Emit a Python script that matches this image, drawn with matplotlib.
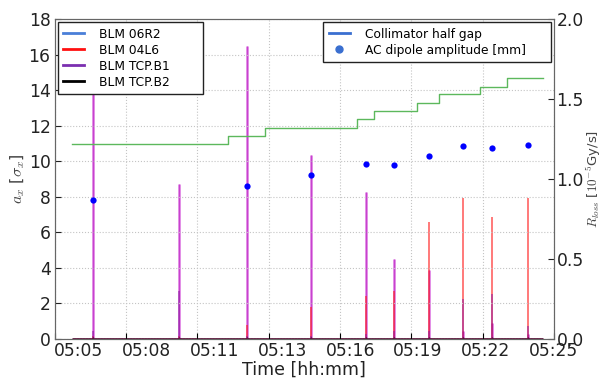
import numpy as np
import matplotlib.pyplot as plt
from matplotlib.lines import Line2D

# time in minutes after 05:00
t_start, t_end = 4.72, 24.53

# collimator half gap steps [sigma]
gap_edges = [4.72, 11.30, 12.86, 16.72, 17.45, 19.25, 20.15, 21.88, 23.05, 24.53]
gap_levels = [10.95, 11.40, 11.88, 12.36, 12.83, 13.30, 13.76, 14.20, 14.70]

# AC dipole kicks
kick_t = [5.60, 12.09, 14.80, 17.09, 18.26, 19.73, 21.18, 22.40, 23.91]
kick_amp = [7.83, 8.59, 9.24, 9.84, 9.79, 10.31, 10.83, 10.76, 10.89]

# loss spikes [1e-5 Gy/s]
spike_t = [5.60, 9.23, 12.09, 14.80, 17.09, 18.26, 19.73, 21.18, 22.40, 23.91]
loss_06R2 = [1.80, 0.97, 1.83, 1.15, 0.92, 0.50, 0.43, 0.05, 0.10, 0.03]
loss_04L6 = [0.02, 0.02, 0.09, 0.20, 0.27, 0.30, 0.73, 0.88, 0.76, 0.88]
loss_TCPB1 = [0.05, 0.30, 0.02, 0.02, 0.03, 0.05, 0.05, 0.25, 0.28, 0.08]
loss_TCPB2 = [0.01, 0.01, 0.01, 0.01, 0.01, 0.01, 0.01, 0.01, 0.01, 0.01]

grid_ticks = [4, 7, 10, 13, 16, 19, 22, 25]
label_pos = np.linspace(5, 25, 8)
tick_labels = ['05:05', '05:08', '05:11', '05:13', '05:16', '05:19', '05:22', '05:25']

plt.rcParams['font.family'] = 'DejaVu Sans'
plt.rcParams['mathtext.fontset'] = 'cm'

fig = plt.figure(figsize=(6.02, 3.80), dpi=100)
ax = fig.add_axes([0.091, 0.108, 0.829, 0.842])
ax2 = ax.twinx()

txt = '#222222'
for a in (ax, ax2):
    for s in a.spines.values():
        s.set_color('#666666')

# losses on the right axis
ax2.vlines(spike_t, 0, loss_06R2, color='#d24fd8', lw=2.0, alpha=0.7, zorder=2)
ax2.vlines(spike_t, 0, loss_06R2, color='#c030c8', lw=0.7, alpha=0.8, zorder=2)
ax2.vlines(spike_t, 0, loss_04L6, color='#ff2020', lw=1.4, alpha=0.6, zorder=3)
ax2.vlines(spike_t, 0, loss_TCPB1, color='#8a1aa0', lw=1.2, alpha=0.6, zorder=4)
ax2.vlines(spike_t, 0, loss_TCPB2, color='black', lw=1.0, alpha=0.6, zorder=5)
ax2.hlines(0, t_start, t_end, color='#5a1038', lw=2.0, zorder=5)
ax2.set_ylim(0, 2.0)
ax2.set_yticks([0.0, 0.5, 1.0, 1.5, 2.0])
ax2.set_ylabel(r'$R_{loss}$ [$10^{-5}$Gy/s]', fontsize=9.5, color='#444444', labelpad=0)
ax2.tick_params(axis='y', labelsize=12.3, colors=txt, direction='in', length=4, pad=2)

# gap and amplitude on the left axis
ax.set_zorder(ax2.get_zorder() + 1)
ax.patch.set_visible(False)
ax.step(gap_edges, gap_levels + [gap_levels[-1]], where='post', color='#5cb85c', lw=1.0)
ax.plot(kick_t, kick_amp, 'o', color='blue', ms=4.5, mec='none')
ax.set_ylim(0, 18)
ax.set_yticks(range(0, 19, 2))
ax.set_xlim(4, 25)
ax.set_ylabel(r'$a_x$ [$\sigma_x$]', fontsize=11.5, color='#444444', labelpad=1)
ax.tick_params(axis='y', labelsize=12.3, colors=txt, direction='in', length=4, pad=3)

ax.xaxis.remove_overlapping_locs = False
ax.set_xticks(grid_ticks)
ax.set_xticklabels([])
ax.set_xticks(label_pos, minor=True)
ax.set_xticklabels(tick_labels, minor=True)
ax.tick_params(axis='x', which='major', direction='in', length=4)
ax.tick_params(axis='x', which='minor', length=0, labelsize=12.3, colors=txt, pad=2)
ax.set_xlabel('Time [hh:mm]', fontsize=12.5, color=txt, labelpad=1)
ax.grid(True, which='major', color='#c4c4c4', linestyle=':', lw=0.8)

leg_kw = dict(fontsize=8.8, fancybox=False, framealpha=1, edgecolor='#222222',
              borderaxespad=0.25, handlelength=1.7, handletextpad=1.25,
              labelspacing=0.25, borderpad=0.45)
pad = '       '

leg1_handles = [Line2D([], [], color=c, lw=2) for c in ['#4a7fd8', '#ff1010', '#7b2fb0', 'black']]
leg1 = ax.legend(leg1_handles, [s + pad for s in ['BLM 06R2', 'BLM 04L6', 'BLM TCP.B1', 'BLM TCP.B2']],
                 loc='upper left', **leg_kw)
leg1.set_zorder(10)
ax.add_artist(leg1)

leg2_handles = [Line2D([], [], color='#3a6fd0', lw=2),
                Line2D([], [], color='#3a6fd0', marker='o', ls='none', ms=5)]
leg2 = ax.legend(leg2_handles, [s + '     ' for s in ['Collimator half gap', 'AC dipole amplitude [mm]']],
                 loc='upper right', **leg_kw)
leg2.set_zorder(10)

plt.savefig('out.png', dpi=100)
